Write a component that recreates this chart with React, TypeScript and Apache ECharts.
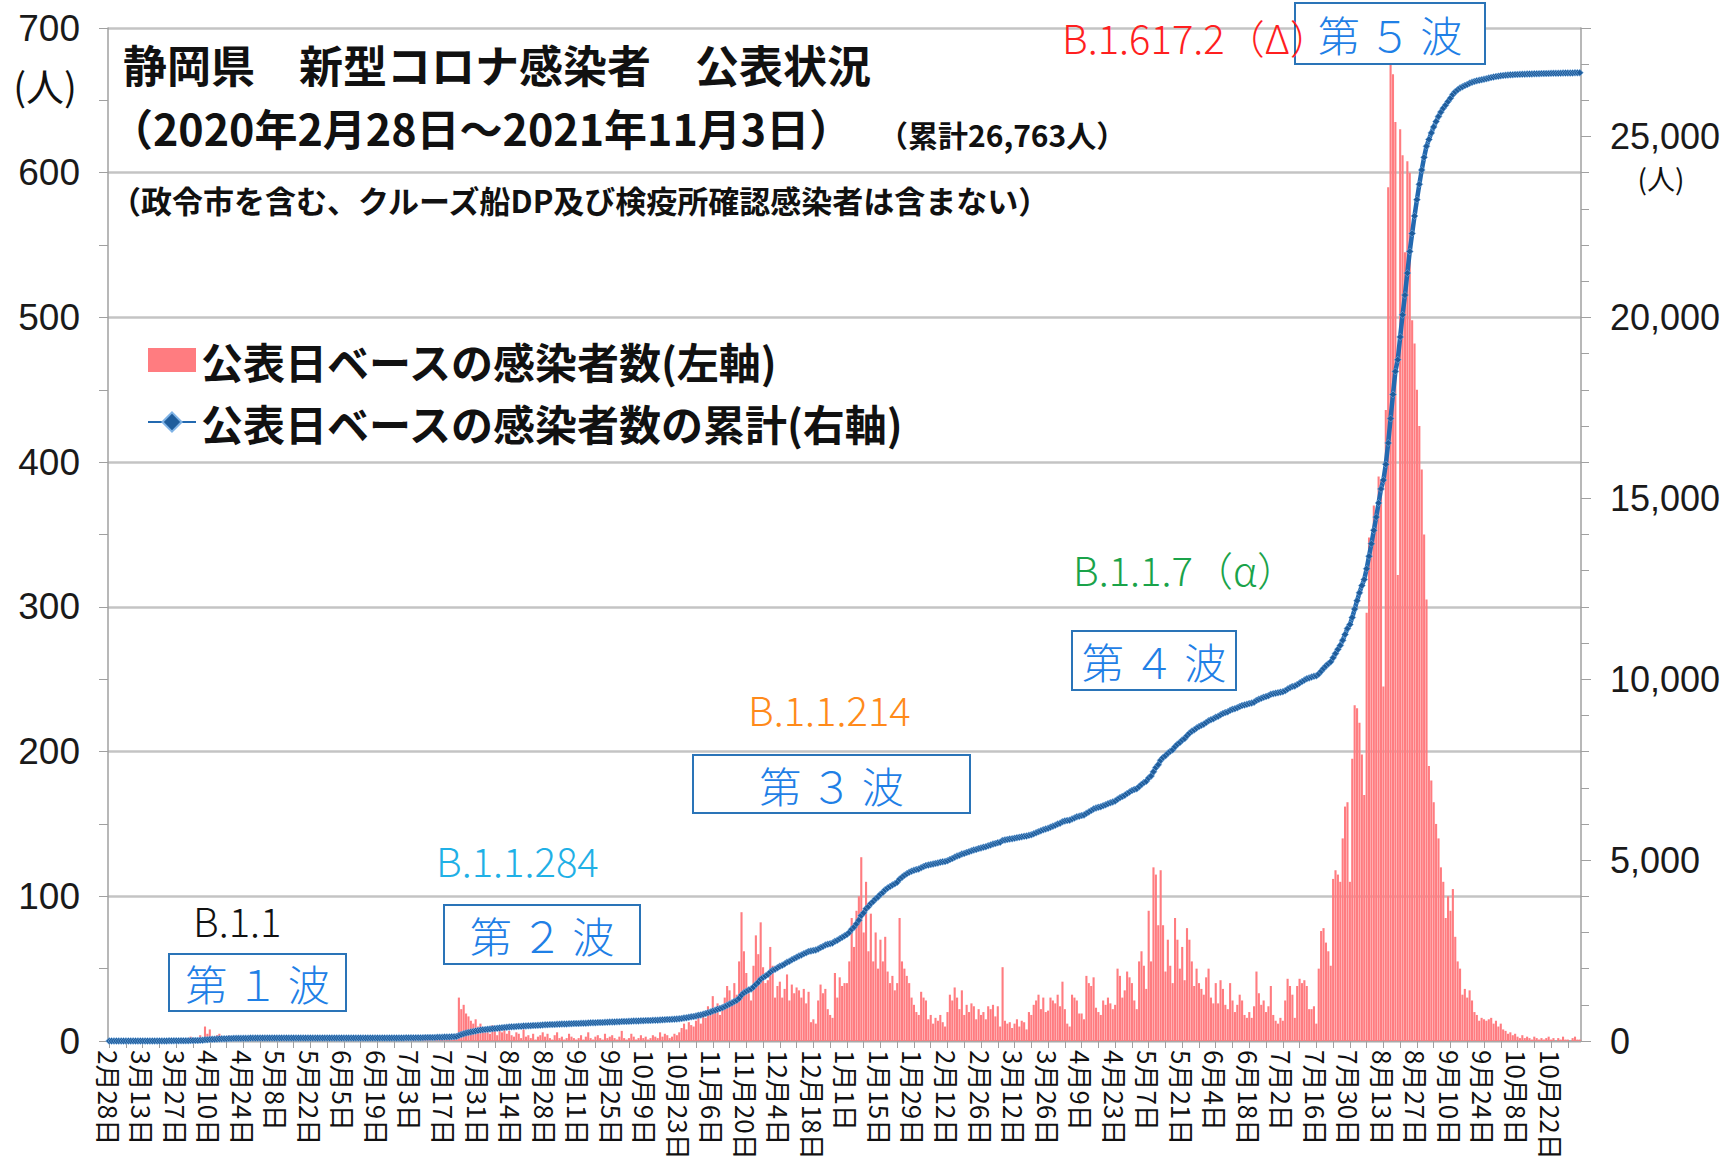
import React, { useEffect, useRef } from 'react';
import * as echarts from 'echarts';

// ---- Daily new cases (公表日ベース), one row = 14 days ----
// 2020-02-28 .. 2020-07-16
const dailyPhase1 = [
  1, 0, 0, 0, 0, 0, 0, 1, 0, 0, 0, 0, 0, 0,
  0, 0, 0, 0, 0, 1, 0, 0, 0, 0, 0, 1, 0, 1,
  0, 1, 2, 0, 1, 0, 3, 2, 1, 1, 4, 2, 10, 5,
  8, 3, 2, 4, 5, 1, 3, 2, 4, 1, 3, 2, 1, 0,
  1, 2, 0, 1, 0, 1, 0, 1, 0, 0, 1, 0, 0, 0,
  0, 0, 0, 1, 0, 0, 0, 0, 0, 0, 0, 0, 0, 0,
  0, 0, 0, 0, 0, 0, 0, 0, 0, 0, 0, 0, 0, 0,
  0, 0, 0, 0, 0, 0, 0, 0, 0, 0, 0, 1, 0, 0,
  0, 0, 0, 0, 0, 1, 0, 0, 0, 0, 0, 0, 1, 0,
  0, 1, 2, 0, 0, 1, 3, 2, 1, 0, 2, 4, 1, 3,
];
// 2020-07-17 .. 2020-10-22
const dailyPhase2 = [
  1, 3, 2, 4, 3, 5, 30, 22, 25, 19, 17, 14, 12, 15,
  10, 12, 8, 6, 9, 5, 11, 7, 4, 8, 6, 10, 5, 7,
  4, 3, 6, 5, 2, 8, 3, 4, 2, 5, 1, 3, 4, 6,
  3, 5, 2, 1, 4, 6, 2, 3, 1, 2, 5, 3, 2, 1,
  2, 4, 1, 3, 6, 2, 1, 3, 4, 2, 1, 5, 2, 3,
  4, 2, 1, 3, 7, 2, 1, 2, 5, 3, 1, 2, 4, 2,
  3, 1, 2, 4, 3, 2, 6, 3, 5, 4, 2, 3, 5, 4,
];
// 2020-10-23 .. 2021-01-28
const dailyPhase3 = [
  6, 9, 12, 8, 13, 11, 10, 14, 18, 12, 20, 16, 24, 19,
  31, 22, 26, 18, 25, 30, 38, 35, 28, 40, 32, 55, 89, 62,
  47, 33, 28, 52, 73, 60, 82, 51, 40, 42, 65, 52, 30, 38,
  41, 30, 36, 46, 28, 39, 33, 37, 35, 30, 36, 26, 34, 13,
  15, 12, 28, 39, 33, 36, 22, 18, 16, 47, 30, 44, 38, 40,
  40, 55, 85, 65, 90, 100, 127, 75, 110, 62, 88, 55, 75, 50,
  70, 55, 72, 48, 40, 45, 35, 40, 85, 55, 50, 45, 40, 30,
];
// 2021-01-29 .. 2021-07-15
const dailyPhase4 = [
  25, 20, 18, 34, 30, 28, 15, 18, 12, 16, 14, 18, 13, 10,
  20, 32, 28, 37, 30, 22, 35, 18, 25, 20, 26, 24, 15, 22,
  18, 20, 15, 24, 22, 25, 17, 24, 10, 51, 14, 12, 13, 9,
  12, 15, 10, 14, 13, 8, 20, 18, 25, 28, 32, 22, 30, 20,
  21, 30, 28, 26, 32, 24, 41, 22, 12, 10, 32, 30, 28, 19,
  19, 15, 45, 40, 38, 44, 23, 20, 18, 28, 25, 30, 26, 22,
  25, 50, 45, 30, 35, 48, 44, 40, 28, 22, 55, 62, 52, 36,
  90, 55, 120, 115, 80, 118, 80, 48, 70, 52, 40, 85, 70, 50,
  65, 42, 78, 70, 55, 38, 50, 40, 36, 32, 44, 50, 30, 26,
  40, 26, 42, 36, 25, 22, 40, 28, 20, 25, 32, 28, 18, 16,
  20, 16, 24, 48, 33, 25, 28, 20, 24, 38, 18, 14, 12, 16,
  14, 28, 43, 38, 32, 16, 38, 43, 40, 42, 38, 22, 22, 24,
];
// 2021-07-16 .. 2021-11-03
const dailyPhase5 = [
  12, 50, 76, 78, 68, 62, 52, 112, 118, 115, 110, 140, 162, 165,
  110, 195, 232, 230, 220, 198, 170, 296, 348, 345, 370, 365, 390, 388,
  245, 436, 590, 675, 668, 635, 322, 630, 612, 545, 608, 600, 498, 482,
  450, 425, 395, 350, 305, 190, 180, 165, 150, 140, 120, 110, 85, 100,
  90, 105, 72, 55, 50, 32, 36, 30, 35, 28, 20, 18, 14, 16,
  15, 14, 15, 16, 12, 14, 10, 12, 8, 7, 5, 6, 4, 5, 3, 2, 4, 2, 3, 2,
  1, 3, 2, 1, 2, 1, 2, 3, 1, 2, 0, 2, 1, 3, 1, 1, 0, 2, 3, 1, 1,
];

const dailyCases = [...dailyPhase1, ...dailyPhase2, ...dailyPhase3, ...dailyPhase4, ...dailyPhase5];

// first day of the series: 2020-02-28
const startYear = 2020;
const startMonth = 2;
const startDay = 28;
const dateLabels = dailyCases.map((_, i) => {
  const dt = new Date(Date.UTC(startYear, startMonth - 1, startDay + i));
  return `${dt.getUTCMonth() + 1}月${dt.getUTCDate()}日`;
});

const cumulativeCases: number[] = [];
dailyCases.reduce((acc, v) => {
  const s = acc + v;
  cumulativeCases.push(s);
  return s;
}, 0);

const leftAxis = { min: 0, max: 700, interval: 100 };
const rightAxis = { min: 0, max: 28000, interval: 5000, lastLabel: 25000 };

const seriesNames = ['公表日ベースの感染者数(左軸)', '公表日ベースの感染者数の累計(右軸)'];

const titleLines = [
  '静岡県　新型コロナ感染者　公表状況',
  '（2020年2月28日～2021年11月3日）',
  '（累計26,763人）',
  '（政令市を含む、クルーズ船DP及び検疫所確認感染者は含まない）',
];

const variantLabels = [
  { text: 'B.1.1', color: '#111111', x: 193, y: 920 },
  { text: 'B.1.1.284', color: '#1fb0e6', x: 436, y: 860 },
  { text: 'B.1.1.214', color: '#ff8a1a', x: 748, y: 709 },
  { text: 'B.1.1.7（α）', color: '#1aa34a', x: 1073, y: 569 },
  { text: 'B.1.617.2（Δ）', color: '#ff1f1f', x: 1062, y: 37 },
];

const waveBoxes = [
  { text: '第 １ 波', x: 169, y: 954, w: 177, h: 57 },
  { text: '第 ２ 波', x: 444, y: 905, w: 196, h: 59 },
  { text: '第 ３ 波', x: 693, y: 755, w: 277, h: 58 },
  { text: '第 ４ 波', x: 1072, y: 631, w: 164, h: 59 },
  { text: '第 ５ 波', x: 1295, y: 3, w: 190, h: 61 },
];

const CJK = '"Noto Sans CJK JP", "Noto Sans", sans-serif';
const NUM = '"Liberation Sans", Arial, sans-serif';

const withCommas = (v: number) => String(v).replace(/\B(?=(\d{3})+(?!\d))/g, ',');

function buildOption(): echarts.EChartsOption {
  const graphics: any[] = [];
  graphics.push(
    { type: 'text', x: 123, y: 64, z: 100, style: { text: titleLines[0], font: `bold 44px ${CJK}`, fill: '#111', verticalAlign: 'middle' } },
    { type: 'text', x: 110, y: 127, z: 100, style: { text: titleLines[1], font: `bold 43px ${CJK}`, fill: '#111', verticalAlign: 'middle' } },
    { type: 'text', x: 878, y: 134, z: 100, style: { text: titleLines[2], font: `bold 30px ${CJK}`, fill: '#111', verticalAlign: 'middle' } },
    { type: 'text', x: 110, y: 199, z: 100, style: { text: titleLines[3], font: `bold 31px ${CJK}`, fill: '#111', verticalAlign: 'middle' } },
    { type: 'text', x: 45, y: 84, z: 100, style: { text: '(人)', font: `38px ${CJK}`, fill: '#111', align: 'center', verticalAlign: 'middle' } },
    { type: 'text', x: 1661, y: 178, z: 100, style: { text: '(人)', font: `28px ${CJK}`, fill: '#111', align: 'center', verticalAlign: 'middle' } },
  );
  waveBoxes.forEach((b) => {
    graphics.push({
      type: 'rect', z: 100,
      shape: { x: b.x, y: b.y, width: b.w, height: b.h },
      style: { fill: '#ffffff', stroke: '#2a74b8', lineWidth: 2 },
    });
    graphics.push({
      type: 'text', z: 101, x: b.x + b.w / 2, y: b.y + b.h / 2,
      style: { text: b.text, font: `300 42px ${CJK}`, fill: '#1f80e6', align: 'center', verticalAlign: 'middle' },
    });
  });
  variantLabels.forEach((v) => {
    graphics.push({
      type: 'text', z: 102, x: v.x, y: v.y,
      style: { text: v.text, font: `300 40px ${CJK}`, fill: v.color, verticalAlign: 'middle' },
    });
  });

  return {
    animation: false,
    backgroundColor: '#ffffff',
    grid: { left: 108, right: 150, top: 28, bottom: 134, containLabel: false },
    legend: {
      orient: 'vertical',
      left: 147,
      top: 335,
      padding: 0,
      itemWidth: 48,
      itemHeight: 24,
      itemGap: 12,
      data: [
        { name: seriesNames[0], icon: 'rect' },
        { name: seriesNames[1] },
      ],
      textStyle: { fontSize: 42, lineHeight: 50, fontFamily: CJK, fontWeight: 'bold', color: '#111' },
    },
    xAxis: {
      type: 'category',
      data: dateLabels,
      boundaryGap: true,
      axisLine: { show: true, lineStyle: { color: '#a0a0a0', width: 1.5 } },
      axisTick: { show: true, interval: 6, alignWithLabel: true, length: 7, lineStyle: { color: '#a0a0a0' } },
      axisLabel: { interval: 13, rotate: -90, margin: 9, fontSize: 26, fontFamily: CJK, color: '#111' },
      splitLine: { show: false },
    },
    yAxis: [
      {
        type: 'value',
        position: 'left',
        min: leftAxis.min,
        max: leftAxis.max,
        interval: leftAxis.interval,
        axisLine: { show: true, lineStyle: { color: '#a0a0a0', width: 1.5 } },
        axisTick: { show: true, length: 9, lineStyle: { color: '#a0a0a0' } },
        minorTick: { show: true, splitNumber: 2, length: 9, lineStyle: { color: '#a0a0a0' } },
        splitLine: { show: true, lineStyle: { color: '#c4c4c4', width: 2.5 } },
        axisLabel: { fontSize: 37, fontFamily: NUM, color: '#1a1a1a', margin: 28 },
      },
      {
        type: 'value',
        position: 'right',
        min: rightAxis.min,
        max: rightAxis.max,
        interval: rightAxis.interval,
        axisLine: { show: true, lineStyle: { color: '#a0a0a0', width: 1.5 } },
        axisTick: { show: true, length: 10, lineStyle: { color: '#a0a0a0' } },
        minorTick: { show: true, splitNumber: 5, length: 8, lineStyle: { color: '#a0a0a0' } },
        splitLine: { show: false },
        axisLabel: {
          fontSize: 36, fontFamily: NUM, color: '#1a1a1a', margin: 29,
          formatter: (v: number) => (v % rightAxis.interval === 0 && v <= rightAxis.lastLabel ? withCommas(v) : ''),
        },
      },
    ],
    series: [
      {
        name: seriesNames[0],
        type: 'bar',
        data: dailyCases,
        yAxisIndex: 0,
        barCategoryGap: '12%',
        itemStyle: { color: '#ff7c80' },
        z: 2,
      },
      {
        name: seriesNames[1],
        type: 'line',
        data: cumulativeCases,
        yAxisIndex: 1,
        symbol: 'diamond',
        symbolSize: 7,
        showSymbol: true,
        showAllSymbol: true,
        itemStyle: { color: '#1f5d9c', borderColor: '#7fb3e6', borderWidth: 0.6 },
        lineStyle: { color: '#2369b0', width: 4.5 },
        z: 5,
      },
    ],
    graphic: graphics,
  };
}

export default function App() {
  const ref = useRef<HTMLDivElement>(null);
  useEffect(() => {
    document.body.style.margin = '0';
    document.body.style.overflow = 'hidden';
    const chart = echarts.init(ref.current as HTMLDivElement, undefined, { renderer: 'svg' });
    chart.setOption(buildOption());
    return () => chart.dispose();
  }, []);
  return <div ref={ref} style={{ width: 1731, height: 1175 }} />;
}
